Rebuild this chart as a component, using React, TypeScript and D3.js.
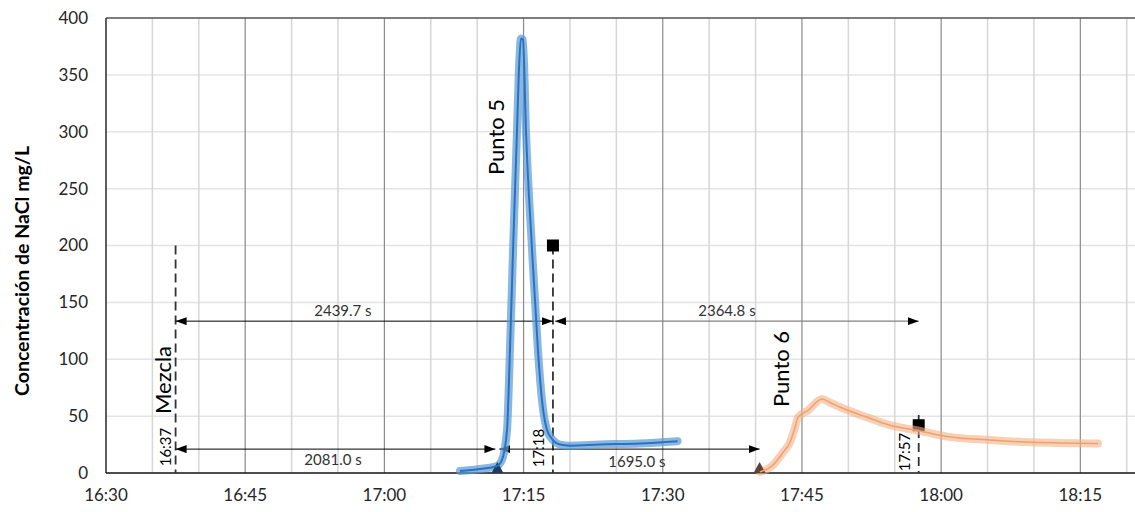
import React from "react";
import * as d3 from "d3";

// ---- data ----
const blueTimes = ["17:08:09","17:10:18","17:12:08","17:12:40","17:13:13","17:13:32","17:13:52","17:14:17","17:14:30","17:14:43","17:14:56","17:15:16","17:15:55","17:16:33","17:16:59","17:17:31","17:18:10","17:18:55","17:20:00","17:23:12","17:27:30","17:31:36"];
const blueValues = [1.8,3.5,6.2,11.4,37.8,108,196,299,354,382,381,299,196,108,64,38,29,25,24,25,26,28];

const orangeTimes = ["17:40:28","17:41:53","17:42:57","17:43:43","17:44:15","17:44:34","17:45:39","17:47:10","17:48:01","17:49:05","17:52:00","17:54:29","17:57:43","18:00:38","18:05:16","18:09:53","18:16:54"];
const orangeValues = [1,7,18,27,40,49,55,65,62,58,49,42,37,32,29,27,26];

const yTicks = [0,50,100,150,200,250,300,350,400];
const xTickLabels = ["16:30","16:45","17:00","17:15","17:30","17:45","18:00","18:15"];

// annotations
const mixTime = "16:37:30";
const peakTimes = ["17:18:10","17:57:35"];
const peakMarkerValues = [200,42];
const peakDashTop = [200,51];
const peakLabels = ["17:18","17:57"];
const startTimes = ["17:12:11","17:40:26"];
const arrowStarts = ["16:37:30","17:18:10","16:37:30","17:12:11"];
const arrowEnds = ["17:18:10","17:57:35","17:12:11","17:40:26"];
const arrowLevels = [133.5,133.5,21,21];
const arrowLabels = ["2439.7 s","2364.8 s","2081.0 s","1695.0 s"];
const arrowLabelTimes = ["16:55:32","17:36:55","16:54:28","17:27:13"];
const arrowLabelValues = [138,138,7,5];

const parse = (s: string) => {
  const [h, m, sec] = s.split(":").map(Number);
  return new Date(2021, 0, 1, h, m, sec || 0);
};

const W = 1135, H = 512;
const FONT = "Lato, 'Open Sans', sans-serif";

export default function App() {
  const x = d3.scaleTime().domain([parse("16:30:00"), parse("18:21:00")]).range([106, 1136]);
  const y = d3.scaleLinear().domain([0, 400]).range([473, 18]);

  const blue = blueTimes.map((t, i) => ({ t: parse(t), v: blueValues[i] }));
  const orange = orangeTimes.map((t, i) => ({ t: parse(t), v: orangeValues[i] }));
  const line = d3.line<{ t: Date; v: number }>().x(d => x(d.t)).y(d => y(d.v)).curve(d3.curveMonotoneX);

  const gridTimes = d3.timeMinute.every(5)!.range(parse("16:30:00"), parse("18:21:00"));
  const fmt = d3.timeFormat("%H:%M");
  const [x0, x1] = x.range();

  const xm = x(parse(mixTime));
  const triColors = ["#1d3d60", "#5a4436"];

  return (
    <svg width={W} height={H} style={{ position: "absolute", left: 0, top: 0, background: "#fff" }} fontFamily={FONT}>
      <defs>
        <marker id="arr" viewBox="0 0 10 10" refX="10" refY="5" markerWidth="11" markerHeight="8"
          markerUnits="userSpaceOnUse" orient="auto-start-reverse" preserveAspectRatio="none">
          <path d="M0,0 L10,5 L0,10 z" fill="#000" />
        </marker>
      </defs>
      {/* horizontal grid */}
      {yTicks.map(v => (
        <line key={"h" + v} x1={x0} x2={x1} y1={y(v)} y2={y(v)} stroke="#e4e4e4" strokeWidth={1.5} />
      ))}
      {/* vertical grid */}
      {gridTimes.map((t, i) => {
        const major = t.getMinutes() % 15 === 0;
        return (
          <line key={"v" + i} x1={x(t)} x2={x(t)} y1={y(400)} y2={y(0)}
            stroke={major ? "#8a8a8a" : "#d6d6d6"} strokeWidth={major ? 1.2 : 1.5} />
        );
      })}
      {/* borders */}
      <line x1={x0} x2={x1} y1={y(400)} y2={y(400)} stroke="#595959" strokeWidth={1.5} />
      <line x1={x0} x2={x0} y1={y(400)} y2={y(0)} stroke="#404040" strokeWidth={1.5} />
      <line x1={x0} x2={x1} y1={y(0)} y2={y(0)} stroke="#1a1a1a" strokeWidth={1.5} />

      {/* y ticks */}
      {yTicks.map(v => (
        <text key={"yt" + v} x={88} y={y(v)} dy="0.35em" textAnchor="end" fontSize={17} fill="#262626">{v}</text>
      ))}
      {/* x ticks */}
      {xTickLabels.map(s => (
        <text key={"xt" + s} x={x(parse(s + ":00"))} y={501} textAnchor="middle" fontSize={17} fill="#262626">{fmt(parse(s + ":00"))}</text>
      ))}
      <text transform={`translate(29,271) rotate(-90)`} textAnchor="middle" fontSize={19.5} fontWeight="bold" fill="#000">
        Concentración de NaCl mg/L
      </text>

      {/* dashed verticals */}
      <line x1={xm} x2={xm} y1={y(200)} y2={y(0)} stroke="#333" strokeWidth={1.8} strokeDasharray="9,5" />
      {peakTimes.map((t, i) => (
        <line key={"pd" + i} x1={x(parse(t))} x2={x(parse(t))} y1={y(peakDashTop[i])} y2={y(0)} stroke="#333" strokeWidth={1.8} strokeDasharray="9,5" />
      ))}

      {/* arrows */}
      {arrowStarts.map((s, i) => {
        const xa = x(parse(s)) + (i === 1 || i === 3 ? 2 : 0);
        const xb = x(parse(arrowEnds[i])) - (i === 2 ? 2 : 0);
        return (
          <line key={"ar" + i} x1={xa} x2={xb} y1={y(arrowLevels[i])} y2={y(arrowLevels[i])}
            stroke={i === 1 ? "#808080" : "#000"} strokeWidth={i === 1 ? 1.4 : 1}
            markerStart="url(#arr)" markerEnd="url(#arr)" />
        );
      })}
      {arrowLabels.map((l, i) => (
        <text key={"al" + i} x={x(parse(arrowLabelTimes[i]))} y={y(arrowLabelValues[i])} textAnchor="middle" fontSize={15} fill="#333">{l}</text>
      ))}

      {/* squares */}
      {peakTimes.map((t, i) => (
        <rect key={"sq" + i} x={x(parse(t)) - 6} y={y(peakMarkerValues[i]) - 6} width={12} height={12} fill="#000" />
      ))}

      {/* series halos */}
      <path d={line(blue)!} fill="none" stroke="#5b9bd5" strokeOpacity={0.72} strokeWidth={8} strokeLinecap="round" strokeLinejoin="round" />
      <path d={line(orange)!} fill="none" stroke="#f4b183" strokeOpacity={0.6} strokeWidth={8} strokeLinecap="round" strokeLinejoin="round" />

      {/* start triangles */}
      {startTimes.map((t, i) => {
        const cx = x(parse(t)), by = y(0);
        return <path key={"tr" + i} d={`M${cx - 6},${by} L${cx + 6},${by} L${cx},${by - 11} Z`} fill={triColors[i]} />;
      })}

      {/* series cores */}
      <path d={line(blue)!} fill="none" stroke="#2a72c0" strokeWidth={2} strokeLinejoin="round" />
      <path d={line(orange)!} fill="none" stroke="#f0a070" strokeWidth={1.5} strokeLinejoin="round" />

      {/* rotated labels */}
      <text transform={`translate(171,380) rotate(-90)`} textAnchor="middle" fontSize={22} fill="#000">Mezcla</text>
      <text transform={`translate(171,447) rotate(-90)`} textAnchor="middle" fontSize={15} fill="#000">16:37</text>
      <text transform={`translate(504,137) rotate(-90)`} textAnchor="middle" fontSize={22} fill="#000">Punto 5</text>
      <text transform={`translate(789,369) rotate(-90)`} textAnchor="middle" fontSize={22} fill="#000">Punto 6</text>
      {peakTimes.map((t, i) => (
        <text key={"pl" + i} transform={`translate(${x(parse(t)) - 9},${i === 0 ? 448 : 452}) rotate(-90)`} textAnchor="middle" fontSize={15} fill="#000">{peakLabels[i]}</text>
      ))}
    </svg>
  );
}
